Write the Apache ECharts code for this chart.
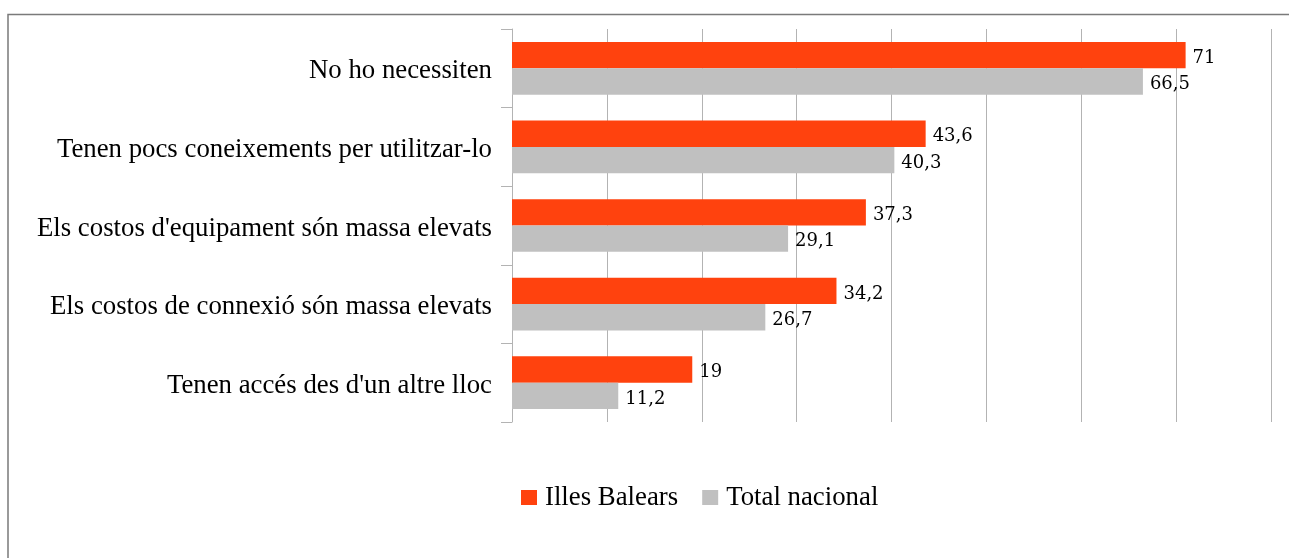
<!DOCTYPE html>
<html>
<head>
<meta charset="utf-8">
<script src="https://cdn.jsdelivr.net/npm/echarts@6/dist/echarts.min.js"></script>
<style>
  html, body { margin: 0; padding: 0; background: #fff; }
  #chart { width: 1289px; height: 558px; }
</style>
</head>
<body>
<div id="chart"></div>
<script>
// dades llegides del gràfic
var categories = [
  'No ho necessiten',
  'Tenen pocs coneixements per utilitzar-lo',
  "Els costos d'equipament són massa elevats",
  'Els costos de connexió són massa elevats',
  "Tenen accés des d'un altre lloc"
];
var seriesNames = ['Illes Balears', 'Total nacional'];
var balears = [71, 43.6, 37.3, 34.2, 19];
var nacional = [66.5, 40.3, 29.1, 26.7, 11.2];
var colors = ['#ff420e', '#c0c0c0'];

var chart = echarts.init(document.getElementById('chart'));

function labelFmt(p) {
  return String(p.value).replace('.', ',');
}

var barLabel = {
  show: true,
  position: 'right',
  distance: 7,
  offset: [0, 3],
  formatter: labelFmt,
  color: '#000',
  fontFamily: 'DejaVu Serif',
  fontSize: 18
};

var option = {
  animation: false,
  backgroundColor: '#fff',
  graphic: [{
    type: 'polyline',
    shape: { points: [[8, 560], [8, 14.5], [1292, 14.5]] },
    style: { stroke: '#7a7a7a', lineWidth: 1.5, fill: null }
  }],
  grid: { left: 512, top: 29, width: 759, height: 393, containLabel: false },
  legend: {
    data: seriesNames,
    left: 516,
    top: 479,
    icon: 'rect',
    itemWidth: 16,
    itemHeight: 15,
    itemGap: 24,
    textStyle: {
      fontFamily: 'Liberation Serif',
      fontSize: 26.8,
      color: '#000',
      padding: [0, 0, 0, 3]
    }
  },
  xAxis: {
    type: 'value',
    min: 0,
    max: 80,
    interval: 10,
    axisLine: { show: false },
    axisTick: { show: false },
    axisLabel: { show: false },
    splitLine: { show: true, lineStyle: { color: '#b3b3b3', width: 1 } }
  },
  yAxis: {
    type: 'category',
    data: categories,
    inverse: true,
    axisLine: { show: true, lineStyle: { color: '#b3b3b3', width: 1 } },
    axisTick: { show: true, length: 11, lineStyle: { color: '#b3b3b3' } },
    axisLabel: {
      margin: 20,
      formatter: function (v) { return '{t|' + v + '}'; },
      rich: {
        t: {
          color: '#000',
          fontFamily: 'Liberation Serif',
          fontSize: 26.8,
          padding: [6, 0, 0, 0]
        }
      }
    }
  },
  series: [
    {
      name: seriesNames[0],
      type: 'bar',
      data: balears,
      barGap: '0%',
      barCategoryGap: '33%',
      itemStyle: { color: colors[0] },
      label: barLabel
    },
    {
      name: seriesNames[1],
      type: 'bar',
      data: nacional,
      itemStyle: { color: colors[1] },
      label: barLabel
    }
  ]
};

chart.setOption(option);
</script>
</body>
</html>
